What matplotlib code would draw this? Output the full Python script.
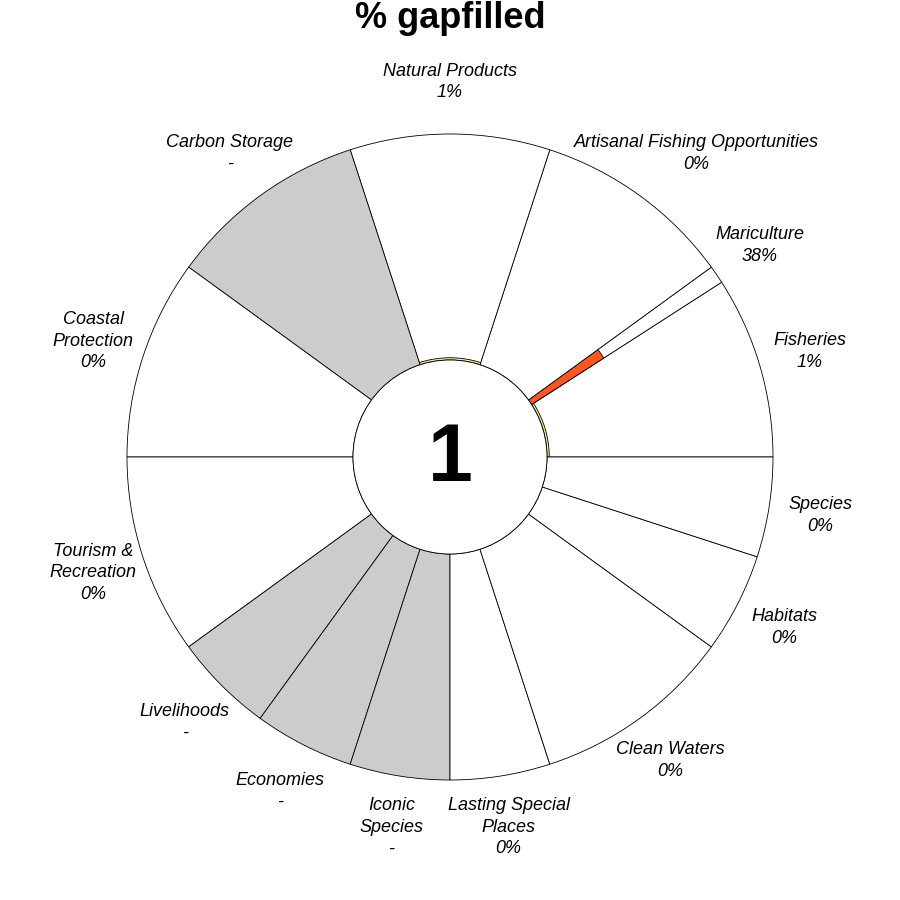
import numpy as np
import matplotlib
matplotlib.use("Agg")
import matplotlib.pyplot as plt
from matplotlib.patches import Wedge, Circle

plt.rcParams['font.family'] = ['Liberation Sans', 'DejaVu Sans']

# goals going counter-clockwise from 3 o'clock
goals = ["Fisheries", "Mariculture", "Artisanal Fishing Opportunities",
         "Natural Products", "Carbon Storage", "Coastal\nProtection",
         "Tourism &\nRecreation", "Livelihoods", "Economies", "Iconic\nSpecies",
         "Lasting Special\nPlaces", "Clean Waters", "Habitats", "Species"]
weights = [0.91, 0.09, 1, 1, 1, 1, 1, 0.5, 0.5, 0.5, 0.5, 1, 0.5, 0.5]
gapfilled = [1, 38, 0, 1, np.nan, 0, 0, np.nan, np.nan, np.nan, 0, 0, 0, 0]
center_score = "1"

fig = plt.figure(figsize=(9, 9), dpi=100)
ax = fig.add_axes([0, 0, 1, 1])
ax.set_xlim(0, 900)
ax.set_ylim(900, 0)
ax.set_aspect('equal')
ax.axis('off')

cx, cy = 450, 457
r_in, r_out = 97, 323
r_lab = 375

def fill_color(v):
    # light yellow -> orange red
    lo = np.array([0.97, 0.92, 0.60])
    hi = np.array([1.0, 0.34, 0.14])
    t = min(v / 38.0, 1.0)
    return tuple(lo + (hi - lo) * t)

angles = np.cumsum([0] + [w * 36 for w in weights])
for i, g in enumerate(goals):
    a0, a1 = angles[i], angles[i + 1]
    v = gapfilled[i]
    face = '#CCCCCC' if np.isnan(v) else 'white'
    # petal outline (y axis inverted so use negative angles)
    ax.add_patch(Wedge((cx, cy), r_out, -a1, -a0, width=r_out - r_in,
                       facecolor=face, edgecolor='black', lw=0.6))
    if not np.isnan(v) and v > 0:
        r = r_in + v / 100 * (r_out - r_in)
        ax.add_patch(Wedge((cx, cy), r, -a1, -a0, width=r - r_in,
                           facecolor=fill_color(v), edgecolor='black', lw=0.6))
    mid = np.radians((a0 + a1) / 2)
    lx = cx + r_lab * np.cos(mid)
    ly = cy - r_lab * np.sin(mid)
    if g.startswith("Artisanal"):
        lx += 26  # long label pushed right so it clears the petals
    val = '-' if np.isnan(v) else f"{v:.0f}%"
    ax.text(lx, ly, f"{g}\n{val}", ha='center', va='center', fontsize=13,
            style='italic', linespacing=1.35)

ax.add_patch(Circle((cx, cy), r_in, facecolor='white', edgecolor='black', lw=0.6, zorder=5))
ax.text(cx, cy + 3, center_score, ha='center', va='center', fontsize=58,
        fontweight='bold', zorder=6)
ax.text(450, 18, "% gapfilled", ha='center', va='center', fontsize=26,
        fontweight='bold')

fig.savefig("out.png", dpi=100)
